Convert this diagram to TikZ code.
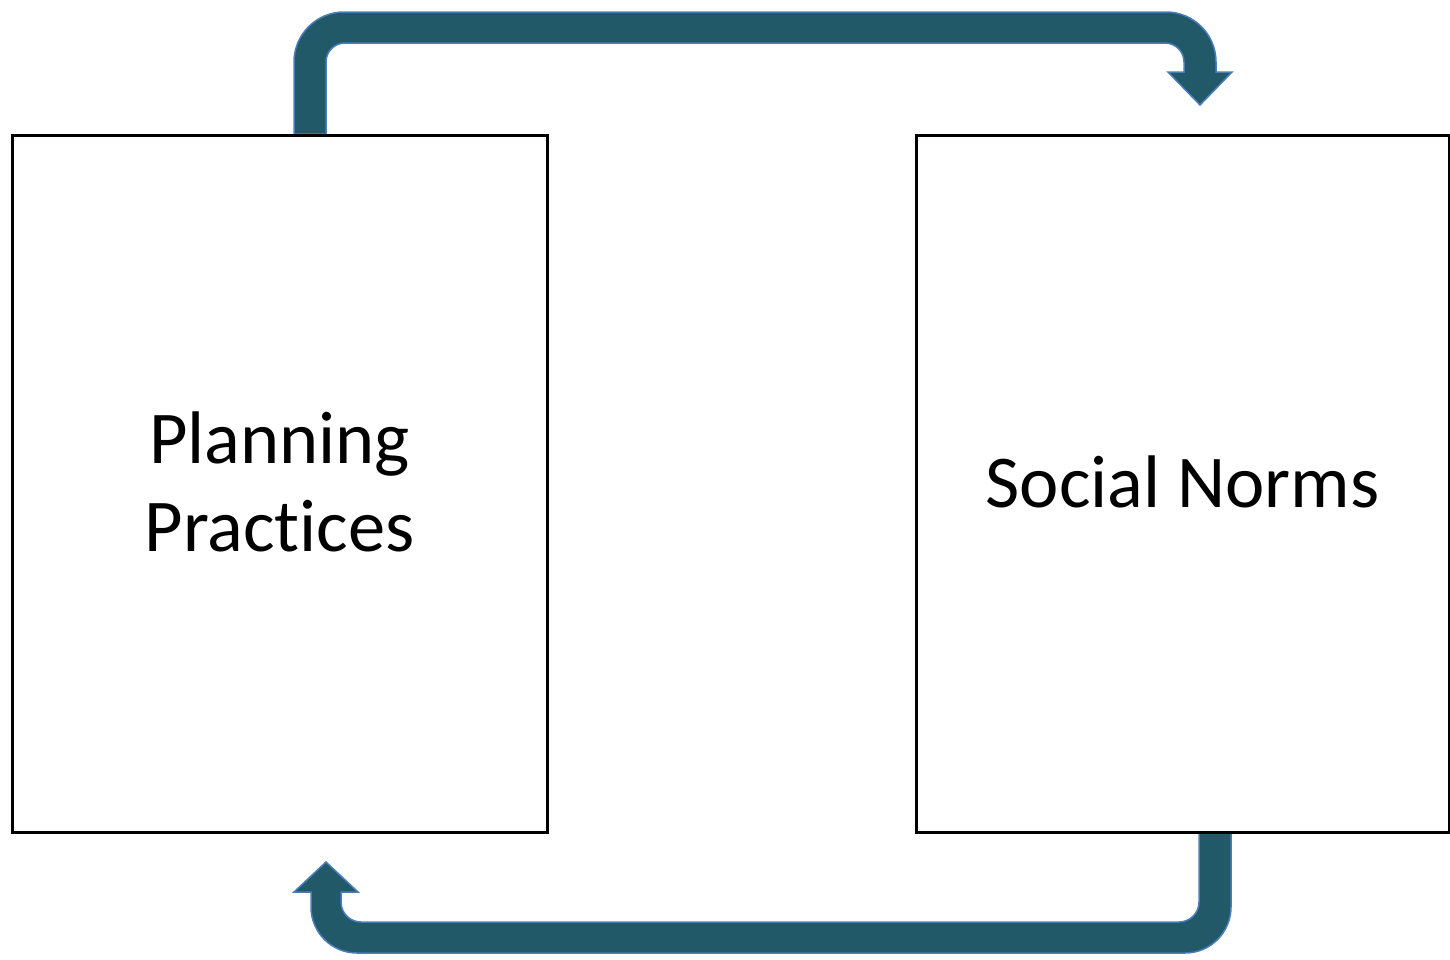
\documentclass[tikz,border=0pt]{standalone}
\usepackage{fontspec}
\setmainfont[Ligatures=NoCommon]{Carlito}
\definecolor{arrowfill}{RGB}{33,89,104}
\definecolor{arrowedge}{RGB}{74,126,187}
\begin{document}
\begin{tikzpicture}[x=1pt,y=-1pt,
  boxstyle/.style={draw=black,line width=3pt,fill=white},
  bentarrow/.style={fill=arrowfill,draw=arrowedge,line width=1.5pt,line join=miter},
  labeltext/.style={font=\fontsize{74.5}{88}\selectfont,align=center,text=black}]
\useasboundingbox (0,0) rectangle (1450,959);
% top arrow: Planning Practices -> Social Norms
\path[bentarrow] (294,134) -- (294,62) arc[start angle=180,end angle=270,radius=50]
  -- (1166,12) arc[start angle=270,end angle=360,radius=50]
  -- (1216,72) -- (1232,72) -- (1200,105) -- (1168,72) -- (1184,72)
  -- (1184,62) arc[start angle=0,end angle=-90,radius=19]
  -- (345,43) arc[start angle=-90,end angle=-180,radius=19]
  -- (326,134) -- cycle;
% bottom arrow: Social Norms -> Planning Practices
\path[bentarrow] (1199,831) -- (1199,902) arc[start angle=0,end angle=90,radius=20]
  -- (361,922) arc[start angle=90,end angle=180,radius=20]
  -- (341,892) -- (358,892) -- (326,862) -- (294,892) -- (311,892)
  -- (311,907) arc[start angle=180,end angle=90,radius=46]
  -- (1185,953) arc[start angle=90,end angle=0,radius=46]
  -- (1231,831) -- cycle;
% boxes
\node[boxstyle,minimum width=535pt,minimum height=697pt,inner sep=0pt,anchor=north west] (pp) at (10.5,133.5) {};
\node[boxstyle,minimum width=533pt,minimum height=697pt,inner sep=0pt,anchor=north west] (sn) at (914.5,133.5) {};
\node[labeltext] (ppl) at ([yshift=2pt]pp.center) {Planning\\Practices};
\node[labeltext] (snl) at ([yshift=2pt]sn.center) {Social Norms};
\end{tikzpicture}
\end{document}
